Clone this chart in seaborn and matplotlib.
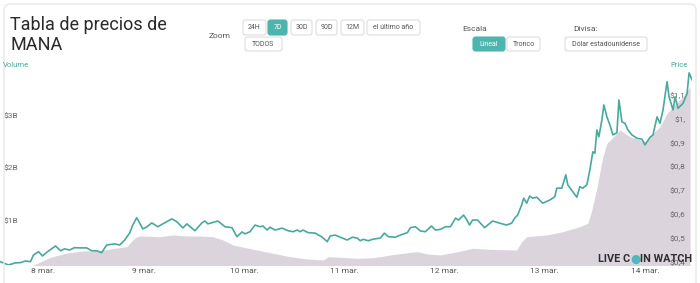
import numpy as np
import pandas as pd
import matplotlib
matplotlib.use("Agg")
import matplotlib.pyplot as plt
import seaborn as sns
from matplotlib.patches import FancyBboxPatch
from matplotlib.transforms import IdentityTransform

# ---------------- data ----------------
price_day = [7.57, 7.65, 7.72, 7.77, 7.82, 7.87, 7.90, 7.95, 7.99, 8.04, 8.12, 8.17, 8.21, 8.26,
             8.31, 8.36, 8.43, 8.48, 8.53, 8.58, 8.63, 8.71, 8.76, 8.81, 8.86, 8.89, 8.93, 8.99,
             9.03, 9.08, 9.14, 9.19, 9.28, 9.33, 9.39, 9.43, 9.51, 9.58, 9.61, 9.64, 9.74, 9.81,
             9.88, 9.93, 9.98, 10.01, 10.06, 10.11, 10.16, 10.19, 10.23, 10.26, 10.31, 10.38,
             10.44, 10.49, 10.53, 10.56, 10.59, 10.64, 10.71, 10.78, 10.83, 10.86, 10.91, 10.96,
             11.03, 11.08, 11.13, 11.16, 11.19, 11.24, 11.29, 11.36, 11.40, 11.44, 11.51, 11.56,
             11.63, 11.66, 11.71, 11.76, 11.81, 11.87, 11.91, 11.96, 12.01, 12.06, 12.11, 12.14,
             12.19, 12.22, 12.25, 12.28, 12.33, 12.40, 12.48, 12.55, 12.62, 12.67, 12.70, 12.73,
             12.77, 12.79, 12.82, 12.85, 12.88, 12.92, 12.98, 13.05, 13.10, 13.12, 13.17, 13.21,
             13.23, 13.28, 13.32, 13.35, 13.38, 13.42, 13.45, 13.48, 13.50, 13.52, 13.54, 13.57,
             13.59, 13.62, 13.65, 13.68, 13.72, 13.74, 13.77, 13.80, 13.83, 13.87, 13.92, 13.97,
             14.00, 14.05, 14.08, 14.12, 14.15, 14.18, 14.22, 14.24, 14.28, 14.30, 14.33, 14.38,
             14.42, 14.44, 14.47]
price_usd = [0.401, 0.387, 0.396, 0.397, 0.404, 0.401, 0.429, 0.443, 0.425, 0.443, 0.467, 0.447,
             0.455, 0.450, 0.460, 0.459, 0.459, 0.447, 0.447, 0.439, 0.471, 0.476, 0.471, 0.492,
             0.522, 0.555, 0.586, 0.539, 0.547, 0.564, 0.548, 0.560, 0.581, 0.569, 0.543, 0.560,
             0.531, 0.564, 0.572, 0.560, 0.572, 0.548, 0.544, 0.506, 0.526, 0.518, 0.527, 0.555,
             0.548, 0.551, 0.534, 0.546, 0.534, 0.542, 0.531, 0.527, 0.534, 0.527, 0.534, 0.523,
             0.521, 0.504, 0.485, 0.509, 0.513, 0.504, 0.492, 0.504, 0.500, 0.489, 0.495, 0.489,
             0.496, 0.500, 0.521, 0.506, 0.504, 0.513, 0.523, 0.544, 0.548, 0.530, 0.527, 0.551,
             0.534, 0.537, 0.548, 0.548, 0.584, 0.576, 0.597, 0.579, 0.555, 0.576, 0.576, 0.544,
             0.572, 0.563, 0.555, 0.563, 0.584, 0.597, 0.640, 0.668, 0.647, 0.677, 0.668, 0.672,
             0.647, 0.660, 0.674, 0.710, 0.710, 0.766, 0.724, 0.695, 0.672, 0.716, 0.710, 0.724,
             0.787, 0.863, 0.857, 0.955, 0.926, 0.997, 1.060, 1.010, 0.976, 0.934, 0.943, 1.081,
             0.989, 0.983, 0.955, 0.934, 0.920, 0.916, 0.892, 0.924, 0.934, 1.010, 0.983, 1.039,
             1.158, 1.094, 1.039, 1.094, 1.046, 1.067, 1.109, 1.195, 1.165]

volume_day = [7.90, 8.07, 8.23, 8.39, 8.56, 8.73, 8.83, 8.91, 8.96, 9.16, 9.29, 9.43, 9.56, 9.69,
              9.79, 9.89, 10.03, 10.13, 10.29, 10.46, 10.63, 10.79, 10.84, 10.96, 11.13, 11.29,
              11.46, 11.63, 11.73, 11.83, 11.96, 12.13, 12.28, 12.45, 12.72, 12.77, 12.82, 13.02,
              13.18, 13.35, 13.43, 13.47, 13.50, 13.53, 13.56, 13.58, 13.62, 13.67, 13.72, 13.75,
              13.80, 13.85, 13.95, 14.02, 14.08, 14.15, 14.22, 14.28, 14.38, 14.45]
volume_bn = [0.152, 0.299, 0.381, 0.419, 0.425, 0.476, 0.501, 0.667, 0.705, 0.691, 0.724, 0.705,
             0.705, 0.691, 0.629, 0.533, 0.476, 0.438, 0.375, 0.310, 0.267, 0.248, 0.310, 0.299,
             0.280, 0.291, 0.343, 0.387, 0.406, 0.362, 0.343, 0.406, 0.470, 0.451, 0.438, 0.596,
             0.691, 0.724, 0.787, 0.882, 0.947, 1.200, 1.453, 1.709, 2.025, 2.215, 2.470, 2.566,
             2.661, 2.724, 2.661, 2.596, 2.533, 2.501, 2.661, 2.787, 3.042, 3.168, 3.358, 3.549]

date_ticks = [8, 9, 10, 11, 12, 13, 14]
date_labels = ["8 mar.", "9 mar.", "10 mar.", "11 mar.", "12 mar.", "13 mar.", "14 mar."]
price_ticks = [0.4, 0.5, 0.6, 0.7, 0.8, 0.9, 1.0, 1.1]
price_labels = ["$0,4", "$0,5", "$0,6", "$0,7", "$0,8", "$0,9", "$1,", "$1,1"]
volume_ticks = [1, 2, 3]
volume_labels = ["$1B", "$2B", "$3B"]

# ---------------- style ----------------
TEAL = "#4aa89c"
BTN_TEAL = "#4db5ad"
AREA = "#dbd4dc"
GREY = "#666666"

sns.set_theme(style="white")
plt.rcParams["font.family"] = ["Roboto", "DejaVu Sans"]

W, H = 700, 283
fig = plt.figure(figsize=(W / 100, H / 100), dpi=100)


def fx(px):
    return px / W


def fy(py):
    return 1 - py / H


# card border
fig.add_artist(FancyBboxPatch((4, -12), 692, H + 12 - 4,
                              boxstyle="round,pad=0,rounding_size=6",
                              transform=IdentityTransform(), fc="none",
                              ec="#e8e8e8", lw=1.0))

# plot axes
top_px, bot_px, right_px = 70, 265, 692
ax = fig.add_axes([0, fy(bot_px), fx(right_px), (bot_px - top_px) / H])
ax2 = ax.twinx()

vol_df = pd.DataFrame({"day": volume_day, "volume": volume_bn})
price_df = pd.DataFrame({"day": price_day, "price": price_usd})

ax.fill_between(vol_df["day"], vol_df["volume"], 0, color=AREA, lw=0)
sns.lineplot(data=price_df, x="day", y="price", ax=ax2, color=TEAL, lw=1.2)

ax.set_xlim(7.566, 14.469)
ax.set_ylim(0.152, 3.867)
ax2.set_ylim(0.387, 1.207)

for a in (ax, ax2):
    for s in a.spines.values():
        s.set_visible(False)
    a.grid(False)
    a.set_xlabel("")
    a.set_ylabel("")

ax.set_xticks(date_ticks)
ax.set_xticklabels(date_labels)
ax.tick_params(axis="x", length=0, pad=2.5, labelsize=6, labelcolor="#555555")

ax.set_yticks(volume_ticks)
ax.set_yticklabels(volume_labels, ha="left")
ax.tick_params(axis="y", length=0, pad=-2.5, labelsize=6, labelcolor=GREY)

ax2.set_yticks(price_ticks)
ax2.set_yticklabels(price_labels, ha="right")
ax2.tick_params(axis="y", length=0, pad=-4.5, labelsize=6, labelcolor=GREY)

# axis titles
fig.text(fx(3), fy(65), "Volume", color=TEAL, fontsize=5.5, ha="left", va="center")
fig.text(fx(688), fy(65), "Price", color=TEAL, fontsize=5.5, ha="right", va="center")

# logo
fig.text(fx(630), fy(259.5), "LIVE C", color="#2d2d2d", fontsize=7.8, ha="right",
         va="center", fontweight="bold")
fig.text(fx(635), fy(259.8), "\u25cf", color="#4cb8c4", fontsize=8.5, ha="center",
         va="center", family=["DejaVu Sans"])
fig.text(fx(640), fy(259.5), "IN WATCH", color="#2d2d2d", fontsize=7.8, ha="left",
         va="center", fontweight="bold")

# header
fig.text(fx(10), fy(25), "Tabla de precios de", fontsize=13, color="#2a2a2a",
         ha="left", va="center")
fig.text(fx(10), fy(45), "MANA", fontsize=13, color="#2a2a2a",
         ha="left", va="center")

fig.text(fx(220), fy(36), "Zoom", fontsize=6, color="#555555", ha="center", va="center")
fig.text(fx(475), fy(29), "Escala", fontsize=6, color="#555555", ha="center", va="center")
fig.text(fx(585), fy(29), "Divisa:", fontsize=6, color="#555555", ha="center", va="center")


def button(x0, x1, y0, y1, label, active=False):
    fig.add_artist(FancyBboxPatch((x0, H - y1), x1 - x0, y1 - y0,
                                  boxstyle="round,pad=0,rounding_size=2.5",
                                  transform=IdentityTransform(),
                                  fc=BTN_TEAL if active else "white",
                                  ec=BTN_TEAL if active else "#dddddd", lw=0.8))
    fig.text(fx((x0 + x1) / 2), fy((y0 + y1) / 2), label, fontsize=5,
             color="white" if active else "#555555", ha="center", va="center")


button(243, 266, 20, 35, "24H")
button(268, 287, 20, 35, "7D", True)
button(291, 312, 20, 35, "30D")
button(316, 337, 20, 35, "90D")
button(341, 364, 20, 35, "12M")
button(367, 420, 20, 35, "el último año")
button(245, 282, 37, 51, "TODOS")
button(473, 505, 37, 51, "Lineal", True)
button(507, 540, 37, 51, "Tronco")
button(565, 647, 37, 51, "Dólar estadounidense")

fig.savefig("out.png", dpi=100)
